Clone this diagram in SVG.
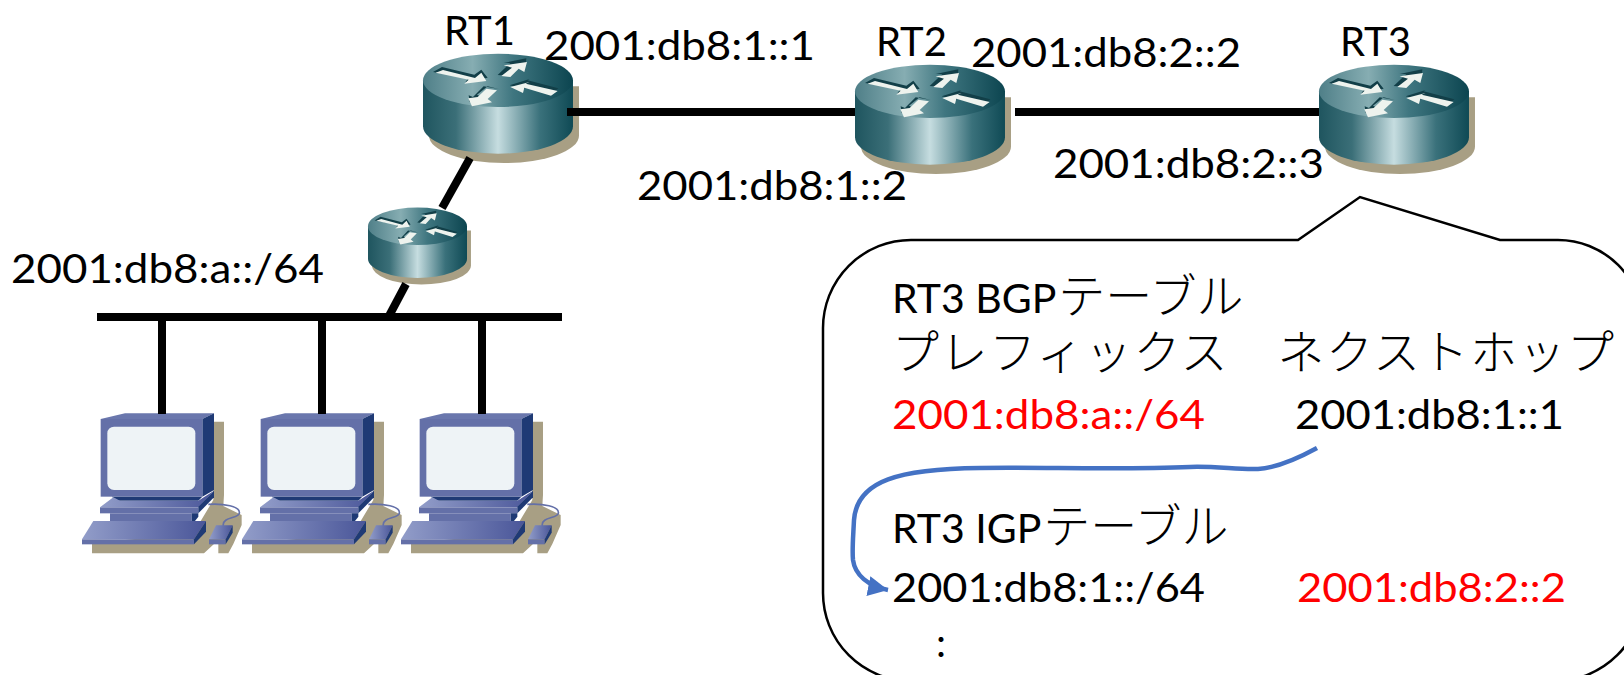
<svg xmlns="http://www.w3.org/2000/svg" xmlns:xlink="http://www.w3.org/1999/xlink" width="1624" height="675" viewBox="0 0 1624 675">
<style>
text{font-family:"Lato","Carlito","Noto Sans CJK JP",sans-serif;font-size:40px;fill:#000}
.t41{font-size:41px}
.jp{font-family:"Noto Sans CJK JP",sans-serif;font-weight:300;font-size:47px}
.red{fill:#f00}
.link{stroke:#000;stroke-width:8;fill:none}
.shadow{fill:#a89f84}
.arw{fill:#eef3ee}
.arwd{fill:#123f48}
.dk{fill:#1f3a75}
.fr{fill:#6470a8}
</style>
<defs>
<linearGradient id="gTop" x1="0" x2="1" y1="0" y2="0"><stop offset="0" stop-color="#4f7f88"/><stop offset=".33" stop-color="#86adb2"/><stop offset=".6" stop-color="#3f7680"/><stop offset="1" stop-color="#0c4550"/></linearGradient>
<linearGradient id="gSide" x1="0" x2="1" y1="0" y2="0"><stop offset="0" stop-color="#1f555f"/><stop offset=".22" stop-color="#3b6f78"/><stop offset=".5" stop-color="#c6dde0"/><stop offset=".78" stop-color="#3a717b"/><stop offset="1" stop-color="#0f4a55"/></linearGradient>
<linearGradient id="gDeck" x1="0" x2="1" y1="0" y2="0"><stop offset="0" stop-color="#929dc9"/><stop offset="1" stop-color="#4a5699"/></linearGradient>
<marker id="ah" markerUnits="userSpaceOnUse" markerWidth="22" markerHeight="22" refX="20" refY="10" orient="auto"><path d="M0,0L20,10L0,20Z" fill="#4472c4"/></marker>
<g id="router">
<path class="shadow" d="M18,150V248A225,82 0 0 0 468,248V100L18,100Z"/>
<path d="M0,82V220A225,82 0 0 0 450,220V82Z" fill="url(#gSide)"/>
<ellipse cx="225" cy="82" rx="225" ry="80" fill="url(#gTop)"/>
<g transform="translate(-68,-38)">
<path class="arwd" d="M98,95L125,80L222,103L243,88L262,112L195,126L205,112Z"/>
<path class="arw" d="M106,97L128,89L224,113L243,97L258,122L192,130L205,118Z"/>
<path class="arwd" d="M292,104L330,68L310,68L378,54L376,76L360,72L325,106Z"/>
<path class="arw" d="M303,107L335,82L310,75L380,65L372,95L355,85L330,110Z"/>
<path class="arwd" d="M474,144L458,158L378,132L372,146L328,135L388,116L382,120Z"/>
<path class="arw" d="M472,152L452,166L372,142L368,158L330,140L388,125L376,130Z"/>
<path class="arwd" d="M295,146L262,138L230,163L262,178L208,185L205,165L218,170L250,138Z"/>
<path class="arw" d="M290,150L258,145L232,170L204,174L215,198L275,186L262,176Z"/>
</g>
</g>
<g id="pc" transform="scale(.33333)">
<path class="shadow" d="M400,65H432V285L430,318L485,345V375L460,432L445,460H415V420L372,460H36V430L340,400L400,300Z"/>
<path d="M385,313C430,310 482,318 478,340C475,356 425,350 430,378" fill="none" stroke="#6470a8" stroke-width="5"/>
<path d="M62,57L135,40H402L367,57Z" fill="#6a77ad"/>
<path class="dk" d="M367,57L402,40V270L367,290Z"/>
<rect class="fr" x="62" y="57" width="305" height="233"/>
<rect x="82" y="80" width="264" height="190" rx="20" fill="#eef3f6"/>
<path class="dk" d="M95,290H367L355,302H115Z"/>
<path d="M60,322L100,292L120,302H355L402,272L355,322Z" fill="url(#gDeck)"/>
<rect class="fr" x="60" y="322" width="295" height="18"/>
<path class="dk" d="M355,320L402,272V292L355,340Z"/>
<rect class="fr" x="90" y="340" width="245" height="23"/>
<path class="dk" d="M335,340H355V350L345,363H335Z"/>
<path d="M6,418L40,363H378L342,418Z" fill="url(#gDeck)"/>
<rect class="fr" x="6" y="418" width="336" height="15"/>
<path class="dk" d="M342,418L378,363V395L342,433Z"/>
<path d="M387,418L408,376H458L437,418Z" fill="url(#gDeck)"/>
<rect class="fr" x="387" y="418" width="50" height="15"/>
<path class="dk" d="M437,418L458,376V398L437,433Z"/>
</g>
</defs>

<g id="rt1"><use xlink:href="#router" href="#router" transform="translate(423,53) scale(.3333)"/></g>
<g id="rt2"><use xlink:href="#router" href="#router" transform="translate(855,64) scale(.3333)"/></g>
<g id="rt3"><use xlink:href="#router" href="#router" transform="translate(1319,64) scale(.3333)"/></g>
<g id="rt-small"><use xlink:href="#router" href="#router" transform="translate(368,207) scale(.22,.235)"/></g>

<g id="pc1"><use xlink:href="#pc" href="#pc" transform="translate(80,400)"/></g>
<g id="pc2"><use xlink:href="#pc" href="#pc" transform="translate(240,400)"/></g>
<g id="pc3"><use xlink:href="#pc" href="#pc" transform="translate(399,400)"/></g>

<g id="connectors">
<path class="link" d="M567,112H855"/>
<path class="link" d="M1015,112H1319"/>
<path class="link" d="M470,158L442,208"/>
<path class="link" d="M406,284L389,316"/>
<path class="link" d="M97,317H562"/>
<path class="link" d="M162,317V414"/>
<path class="link" d="M322,317V414"/>
<path class="link" d="M482,317V414"/>
</g>

<g id="addr-labels">
<text x="444" y="45">RT1</text>
<text x="876" y="56">RT2</text>
<text x="1340" y="56">RT3</text>
<text x="544" y="60" textLength="271" lengthAdjust="spacingAndGlyphs">2001:db8:1::1</text>
<text x="971" y="67" textLength="270" lengthAdjust="spacingAndGlyphs">2001:db8:2::2</text>
<text x="637" y="200" textLength="270" lengthAdjust="spacingAndGlyphs">2001:db8:1::2</text>
<text x="1053" y="178" textLength="271" lengthAdjust="spacingAndGlyphs">2001:db8:2::3</text>
<text x="11" y="283" textLength="313" lengthAdjust="spacingAndGlyphs">2001:db8:a::/64</text>
</g>

<g id="callout">
<path d="M911,240H1298L1360,197L1500,240H1558A85,85 0 0 1 1643,325V593A88,88 0 0 1 1555,681H911A88,88 0 0 1 823,593V328A88,88 0 0 1 911,240Z" fill="#fff" stroke="#000" stroke-width="2.5"/>
<text x="892" y="313" class="t41">RT3 BGP<tspan class="jp" dx="2">テーブル</tspan></text>
<text x="892" y="369" class="jp" textLength="722">プレフィックス　ネクストホップ</text>
<text x="892" y="429" class="red" textLength="313" lengthAdjust="spacingAndGlyphs">2001:db8:a::/64</text>
<text x="1295" y="429" textLength="269" lengthAdjust="spacingAndGlyphs">2001:db8:1::1</text>
<text x="892" y="543" class="t41">RT3 IGP<tspan class="jp" dx="2">テーブル</tspan></text>
<text x="892" y="602" textLength="313" lengthAdjust="spacingAndGlyphs">2001:db8:1::/64</text>
<text x="1297" y="602" class="red" textLength="269" lengthAdjust="spacingAndGlyphs">2001:db8:2::2</text>
<text x="936" y="657">:</text>
</g>

<g id="arrow-connector">
<path d="M1317,448C1295,460 1275,468 1258,469C1240,470 1215,466 1190,467C1120,470 1040,467 980,468C900,469 857,480 854,520C853,540 852,550 853,560C855,575 868,586 888,590" fill="none" stroke="#4472c4" stroke-width="4.5" marker-end="url(#ah)"/>
</g>
</svg>
